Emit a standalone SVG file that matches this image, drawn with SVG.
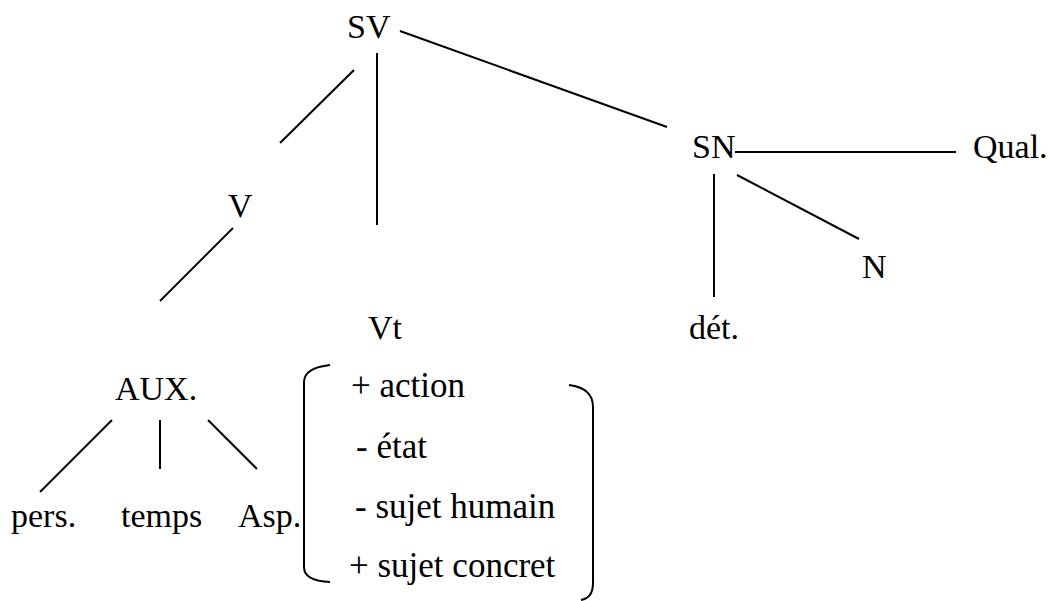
<svg xmlns="http://www.w3.org/2000/svg" width="1049" height="601" viewBox="0 0 1049 601">
<style>
text{font-family:'Liberation Serif',Tinos,'Times New Roman',Times,'DejaVu Serif',serif;font-size:34px;fill:#000}
.f{font-size:35px}
line,path{stroke:#000;stroke-width:2;fill:none}
</style>
<rect width="1049" height="601" fill="#fff"/>
<g id="connectors">
<line x1="400" y1="31" x2="667" y2="127"/>
<line x1="377" y1="53" x2="377" y2="225"/>
<line x1="354" y1="70" x2="280" y2="143"/>
<line x1="233" y1="228" x2="160" y2="301"/>
<line x1="735" y1="152" x2="956" y2="152"/>
<line x1="714" y1="174" x2="714" y2="297"/>
<line x1="737" y1="175" x2="859" y2="239"/>
<line x1="112" y1="420" x2="40" y2="492"/>
<line x1="160" y1="420" x2="160" y2="469"/>
<line x1="208" y1="420" x2="257" y2="469"/>
</g>
<g font-family="Liberation Serif">
<g id="SV"><text x="347" y="38">SV</text></g>
<g id="V"><text x="228" y="217">V</text></g>
<g id="Vt"><text x="368" y="339">Vt</text></g>
<g id="SN"><text x="692" y="158">SN</text></g>
<g id="Qual"><text x="973" y="158">Qual.</text></g>
<g id="N"><text x="862" y="278">N</text></g>
<g id="det"><text x="689" y="339">dét.</text></g>
<g id="AUX"><text x="115" y="400">AUX.</text></g>
<g id="pers"><text x="11" y="527">pers.</text></g>
<g id="temps"><text x="121" y="527">temps</text></g>
<g id="Asp"><text x="238" y="527">Asp.</text></g>
<g id="features">
<path d="M330 365 Q304 368 304 382 L304 567 Q304 581 330 582"/>
<path d="M569 385 Q593 388 593 407 L593 583 Q593 598 581 600"/>
<text class="f" x="351" y="397">+ action</text>
<text class="f" x="356" y="458">- état</text>
<text class="f" x="355" y="518">- sujet humain</text>
<text class="f" x="349" y="577">+ sujet concret</text>
</g>
</g>
</svg>
